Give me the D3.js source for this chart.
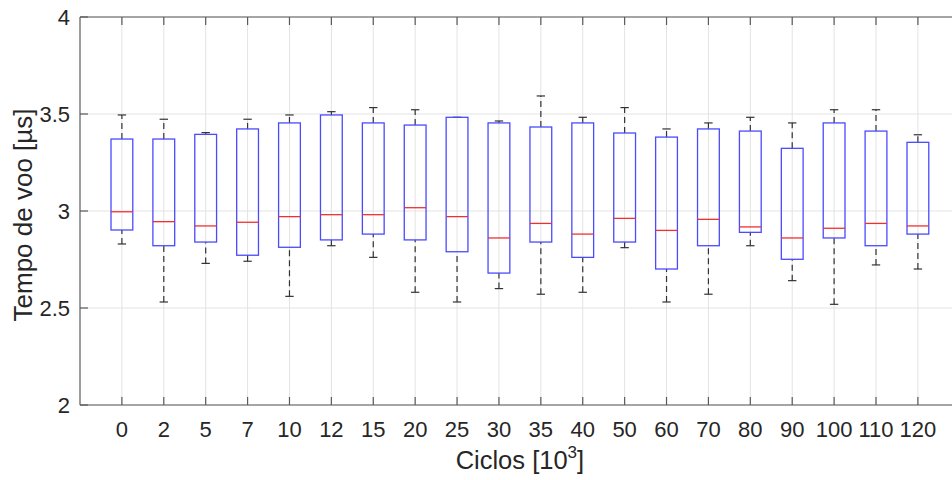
<!DOCTYPE html>
<html>
<head>
<meta charset="utf-8">
<script src="https://cdn.jsdelivr.net/npm/d3@7"></script>
<style>
  html, body { margin: 0; padding: 0; background: #fff; }
  svg { display: block; font-family: "Liberation Sans", Arial, sans-serif; }
</style>
</head>
<body>
<svg id="chart" width="952" height="480"></svg>
<script>
// Cycle groups (thousands of cycles)
const categories = ["0","2","5","7","10","12","15","20","25","30","35","40","50","60","70","80","90","100","110","120"];
// Box statistics of time of flight per group (µs)
const whiskerLow  = [2.830,2.531,2.730,2.741,2.560,2.821,2.761,2.581,2.531,2.600,2.571,2.581,2.811,2.531,2.571,2.821,2.641,2.519,2.722,2.701];
const q1          = [2.902,2.821,2.840,2.772,2.813,2.851,2.881,2.851,2.790,2.680,2.840,2.761,2.840,2.701,2.821,2.890,2.751,2.861,2.821,2.881];
const median      = [2.996,2.945,2.923,2.942,2.971,2.981,2.981,3.017,2.971,2.861,2.936,2.881,2.962,2.900,2.957,2.918,2.861,2.911,2.936,2.923];
const q3          = [3.371,3.371,3.395,3.423,3.454,3.495,3.454,3.443,3.483,3.454,3.433,3.454,3.402,3.381,3.423,3.412,3.323,3.454,3.412,3.354];
const whiskerHigh = [3.495,3.473,3.404,3.473,3.495,3.512,3.533,3.522,3.483,3.464,3.593,3.483,3.533,3.423,3.454,3.483,3.454,3.522,3.522,3.393];
const yTicks = [2, 2.5, 3, 3.5, 4];

const svg = d3.select("#chart");
const plotLeft = 80, plotTop = 17, plotBottom = 405;
const step = (917 - 121) / 19;
const plotRight = plotLeft + 21 * step;

const x = d3.scaleLinear().domain([0, 21]).range([plotLeft, plotRight]);
const y = d3.scaleLinear().domain([2, 4]).range([plotBottom, plotTop]);

const boxes = categories.map((c, i) => ({
  cat: c, pos: i + 1,
  lo: whiskerLow[i], q1: q1[i], med: median[i], q3: q3[i], hi: whiskerHigh[i]
}));

const tickLen = 8;
const axisColor = "#5a5a5a";
const textColor = "#262626";

// grid
const grid = svg.append("g");
grid.selectAll("line.gx").data(boxes).join("line")
  .attr("x1", d => x(d.pos)).attr("x2", d => x(d.pos))
  .attr("y1", plotTop).attr("y2", plotBottom)
  .attr("stroke", "#e3e3e3").attr("stroke-width", 1);
grid.selectAll("line.gy").data(yTicks).join("line")
  .attr("x1", plotLeft).attr("x2", plotRight)
  .attr("y1", d => y(d)).attr("y2", d => y(d))
  .attr("stroke", "#e3e3e3").attr("stroke-width", 1);

// boxes
const halfW = 0.26, capHalf = 0.1;
const g = svg.append("g");
boxes.forEach(d => {
  const cx = x(d.pos);
  const bw = x(d.pos + halfW) - cx;
  const cw = x(d.pos + capHalf) - cx;
  // whiskers
  [[d.q3, d.hi], [d.lo, d.q1]].forEach(([a, b]) => {
    if (b > a) {
      g.append("line").attr("x1", cx).attr("x2", cx)
        .attr("y1", y(a)).attr("y2", y(b))
        .attr("stroke", "#333").attr("stroke-width", 1.2)
        .attr("stroke-dasharray", "6,4");
    }
  });
  [d.hi, d.lo].forEach(v => {
    g.append("line").attr("x1", cx - cw).attr("x2", cx + cw)
      .attr("y1", y(v)).attr("y2", y(v))
      .attr("stroke", "#333").attr("stroke-width", 1.2);
  });
  g.append("rect")
    .attr("x", cx - bw).attr("width", 2 * bw)
    .attr("y", y(d.q3)).attr("height", y(d.q1) - y(d.q3))
    .attr("fill", "none").attr("stroke", "#4a4aff").attr("stroke-width", 1.3);
  g.append("line").attr("x1", cx - bw).attr("x2", cx + bw)
    .attr("y1", y(d.med)).attr("y2", y(d.med))
    .attr("stroke", "#f03030").attr("stroke-width", 1.3);
});

// axes frame
const ax = svg.append("g").attr("stroke", axisColor).attr("stroke-width", 1.2);
ax.append("line").attr("x1", plotLeft).attr("x2", plotRight).attr("y1", plotBottom).attr("y2", plotBottom);
ax.append("line").attr("x1", plotLeft).attr("x2", plotRight).attr("y1", plotTop).attr("y2", plotTop);
ax.append("line").attr("x1", plotLeft).attr("x2", plotLeft).attr("y1", plotTop).attr("y2", plotBottom);
ax.append("line").attr("x1", plotRight).attr("x2", plotRight).attr("y1", plotTop).attr("y2", plotBottom);

// x ticks (inward, both sides)
boxes.forEach(d => {
  ax.append("line").attr("x1", x(d.pos)).attr("x2", x(d.pos)).attr("y1", plotBottom).attr("y2", plotBottom - tickLen);
  ax.append("line").attr("x1", x(d.pos)).attr("x2", x(d.pos)).attr("y1", plotTop).attr("y2", plotTop + tickLen);
});
yTicks.forEach(v => {
  ax.append("line").attr("x1", plotLeft).attr("x2", plotLeft + tickLen).attr("y1", y(v)).attr("y2", y(v));
});

// tick labels
svg.append("g").selectAll("text").data(boxes).join("text")
  .attr("x", d => x(d.pos)).attr("y", 437)
  .attr("text-anchor", "middle").attr("font-size", 22).attr("fill", textColor)
  .text(d => d.cat);
svg.append("g").selectAll("text").data(yTicks).join("text")
  .attr("x", 70).attr("y", d => y(d) + 8)
  .attr("text-anchor", "end").attr("font-size", 22).attr("fill", textColor)
  .text(d => d3.format("")(d));

// axis titles
const xt = svg.append("text")
  .attr("x", (plotLeft + plotRight) / 2).attr("y", 469)
  .attr("text-anchor", "middle").attr("font-size", 25.5).attr("fill", textColor);
xt.append("tspan").text("Ciclos [10");
xt.append("tspan").attr("font-size", 17).attr("dy", -11).text("3");
xt.append("tspan").attr("dy", 11).text("]");

svg.append("text")
  .attr("transform", `translate(32,215) rotate(-90)`)
  .attr("text-anchor", "middle").attr("font-size", 26).attr("fill", textColor)
  .text("Tempo de voo [µs]");
</script>
</body>
</html>
